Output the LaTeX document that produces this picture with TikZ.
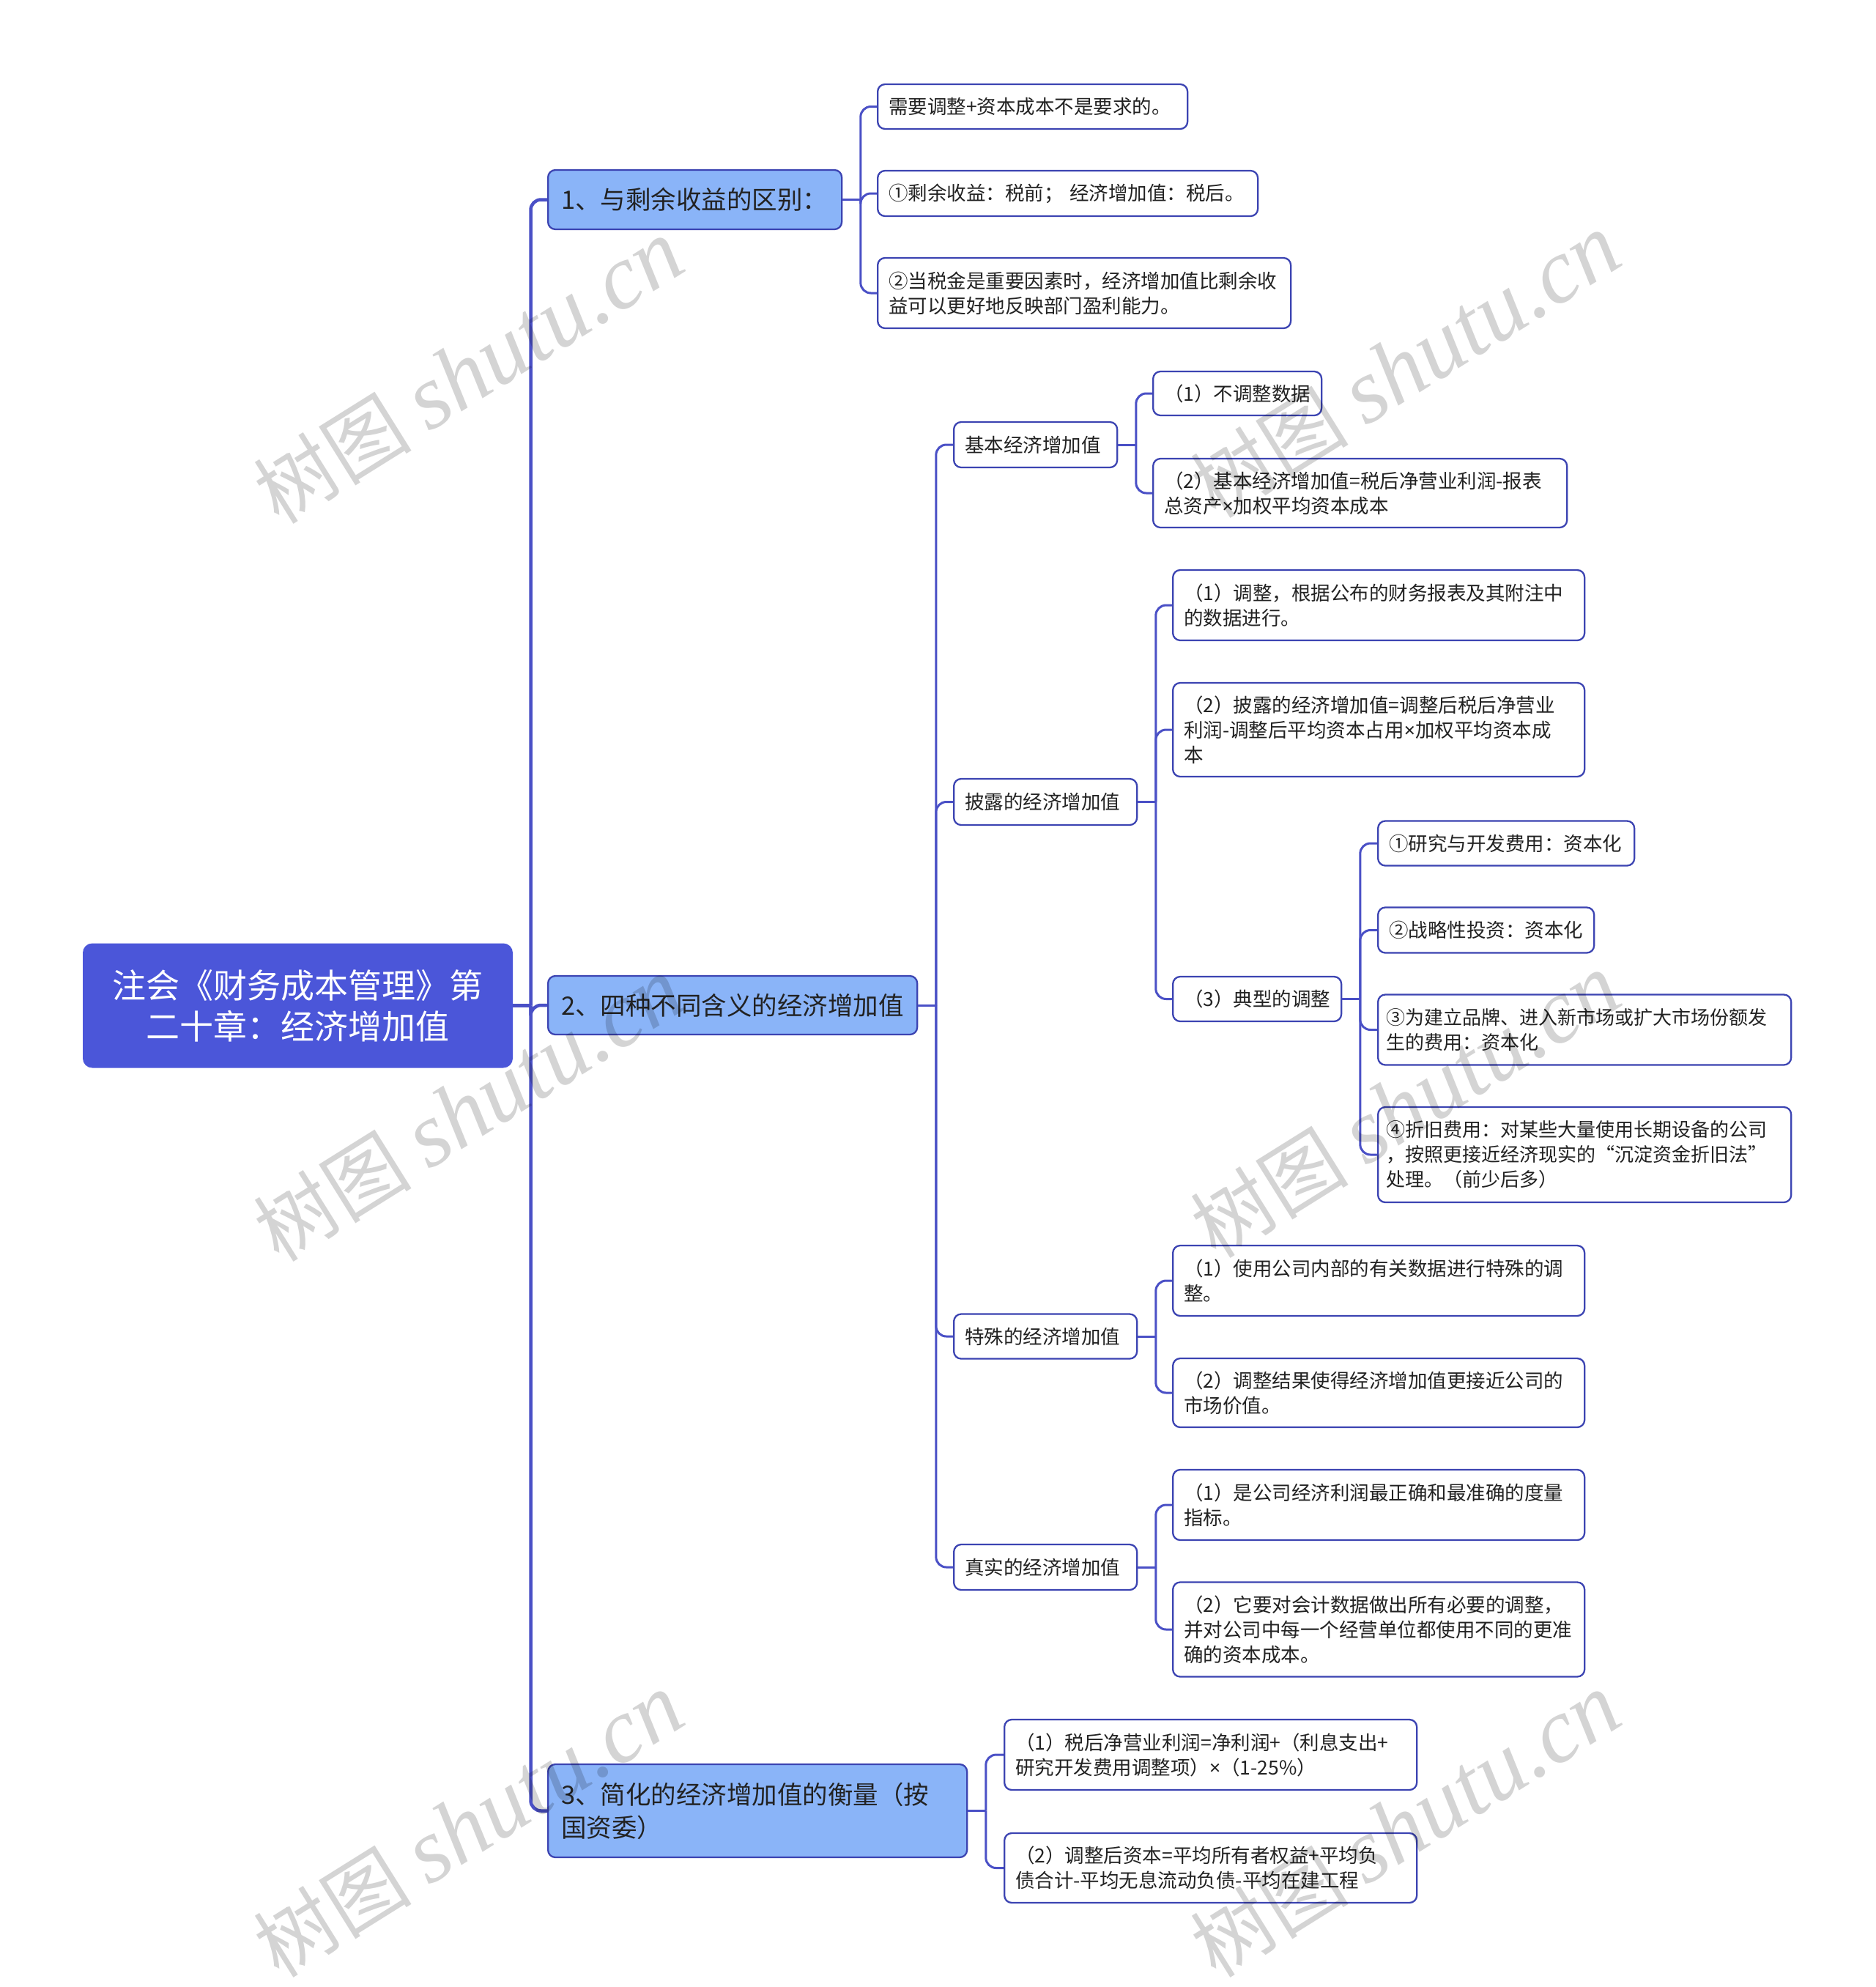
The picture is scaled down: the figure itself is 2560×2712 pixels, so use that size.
\documentclass[tikz,border=0pt]{standalone}
\usepackage{fontspec}
\setmainfont{Noto Sans CJK SC}
\newfontfamily\wmserif{Liberation Serif}
\newfontfamily\latinf{Noto Sans}
\usetikzlibrary{calc}
\definecolor{linec}{HTML}{4A50C6}
\definecolor{bordc}{HTML}{3C44B2}
\definecolor{rootc}{HTML}{4B56D9}
\definecolor{lonec}{HTML}{8AB4F8}
\definecolor{txtc}{HTML}{222222}
\tikzset{
  box/.style={draw=bordc, line width=2.3pt, rounded corners=10pt, anchor=west, align=left,
    inner xsep=15pt, inner ysep=2pt, text=txtc, font=\fontsize{26.5}{34}\selectfont},
  leaf/.style={box, fill=white},
  leafsm/.style={leaf, inner xsep=11pt, font=\fontsize{26}{34}\selectfont},
  lone/.style={box, fill=lonec, inner xsep=18pt, font=\fontsize{34.5}{45}\selectfont},
  rootbox/.style={draw=rootc, fill=rootc, line width=2pt, rounded corners=12pt, text=white, align=center,
    font=\fontsize{46}{56}\selectfont},
  conn/.style={draw=linec, line width=3pt, rounded corners=14pt},
  mainconn/.style={conn, line width=4.5pt},
  wm/.style={text=black, text opacity=0.17, rotate=32, inner sep=0pt, font=\fontsize{108}{115}\selectfont}
}
\newcommand{\wmtext}{树图 {\wmserif\itshape\fontsize{125}{130}\selectfont shutu.cn}}
\newcommand{\mul}{{\latinf ×}}
\begin{document}
\begin{tikzpicture}[x=1pt,y=-1pt]
\useasboundingbox[fill=white] (0,0) rectangle (2560,2712);

% root
\node[rootbox, minimum width=585pt, minimum height=168pt] (root) at (406.5,1372.5)
  {注会《财务成本管理》第\\二十章：经济增加值};

% level 1
\node[lone, text width=365pt, minimum height=81pt] (L1a) at (747,272.5) {1、与剩余收益的区别：};
\node[lone, text width=468pt, minimum height=80pt] (L1b) at (747,1372) {2、四种不同含义的经济增加值};
\node[lone, text width=536pt, minimum height=127pt] (L1c) at (747,2471.5) {3、简化的经济增加值的衡量（按\\国资委）};

% children of L1a
\node[leaf, text width=393pt, minimum height=61pt] (a1) at (1197,145.5) {需要调整+资本成本不是要求的。};
\node[leaf, text width=489pt, minimum height=62pt] (a2) at (1197,264) {①剩余收益：税前； 经济增加值：税后。};
\node[leaf, text width=534pt, minimum height=96pt] (a3) at (1197,400) {②当税金是重要因素时，经济增加值比剩余收\\益可以更好地反映部门盈利能力。};

% children of L1b
\node[leaf, text width=193pt, minimum height=62pt] (b1) at (1301,607) {基本经济增加值};
\node[leaf, text width=220pt, minimum height=63pt] (b2) at (1301,1094.5) {披露的经济增加值};
\node[leaf, text width=220pt, minimum height=61pt] (b3) at (1301,1824) {特殊的经济增加值};
\node[leaf, text width=220pt, minimum height=62pt] (b4) at (1301,2139) {真实的经济增加值};

% children of b1
\node[leaf, text width=200pt, minimum height=60pt] (c1) at (1573,537) {（1）不调整数据};
\node[leaf, text width=535pt, minimum height=94pt] (c2) at (1573,673) {（2）基本经济增加值=税后净营业利润-报表\\总资产\mul 加权平均资本成本};

% children of b2
\node[leaf, text width=532pt, minimum height=96pt] (d1) at (1600,826) {（1）调整，根据公布的财务报表及其附注中\\的数据进行。};
\node[leaf, text width=532pt, minimum height=128pt] (d2) at (1600,996) {（2）披露的经济增加值=调整后税后净营业\\利润-调整后平均资本占用\mul 加权平均资本成\\本};
\node[leaf, text width=200pt, minimum height=61pt] (d3) at (1600,1363.5) {（3）典型的调整};

% children of d3
\node[leaf, text width=320pt, minimum height=61pt] (e1) at (1880,1151) {①研究与开发费用：资本化};
\node[leaf, text width=265pt, minimum height=62pt] (e2) at (1880,1269.5) {②战略性投资：资本化};
\node[leafsm, text width=542pt, minimum height=96pt] (e3) at (1880,1405.5) {③为建立品牌、进入新市场或扩大市场份额发\\生的费用：资本化};
\node[leafsm, text width=542pt, minimum height=130pt] (e4) at (1880,1576) {④折旧费用：对某些大量使用长期设备的公司\\，按照更接近经济现实的“沉淀资金折旧法”\\处理。（前少后多）};

% children of b3
\node[leaf, text width=532pt, minimum height=96pt] (f1) at (1600,1748) {（1）使用公司内部的有关数据进行特殊的调\\整。};
\node[leaf, text width=532pt, minimum height=94pt] (f2) at (1600,1901) {（2）调整结果使得经济增加值更接近公司的\\市场价值。};

% children of b4
\node[leaf, text width=532pt, minimum height=96pt] (g1) at (1600,2054) {（1）是公司经济利润最正确和最准确的度量\\指标。};
\node[leaf, text width=532pt, minimum height=129pt] (g2) at (1600,2224) {（2）它要对会计数据做出所有必要的调整，\\并对公司中每一个经营单位都使用不同的更准\\确的资本成本。};

% children of L1c
\node[leaf, text width=533pt, minimum height=96pt] (h1) at (1370,2395) {（1）税后净营业利润=净利润+（利息支出+\\研究开发费用调整项）\mul（1-25\%）};
\node[leaf, text width=533pt, minimum height=95pt] (h2) at (1370,2549.5) {（2）调整后资本=平均所有者权益+平均负\\债合计-平均无息流动负债-平均在建工程};

% junctions
\coordinate (j0) at ($(root.east)+(24.5,0)$);
\coordinate (ja) at ($(L1a.east)+(24.5,0)$);
\coordinate (jb) at ($(L1b.east)+(24.5,0)$);
\coordinate (jc) at ($(L1c.east)+(24.5,0)$);
\coordinate (jb1) at ($(b1.east)+(24.5,0)$);
\coordinate (jb2) at ($(b2.east)+(24.5,0)$);
\coordinate (jb3) at ($(b3.east)+(24.5,0)$);
\coordinate (jb4) at ($(b4.east)+(24.5,0)$);
\coordinate (jd3) at ($(d3.east)+(24.5,0)$);

% connectors
\draw[mainconn] (root.east) -- (j0);
\foreach \c in {L1a,L1b,L1c} \draw[mainconn] (j0) |- (\c.west);
\draw[conn] (L1a.east) -- (ja);
\foreach \c in {a1,a2,a3} \draw[conn] (ja) |- (\c.west);
\draw[conn] (L1b.east) -- (jb);
\foreach \c in {b1,b2,b3,b4} \draw[conn] (jb) |- (\c.west);
\draw[conn] (L1c.east) -- (jc);
\foreach \c in {h1,h2} \draw[conn] (jc) |- (\c.west);
\draw[conn] (b1.east) -- (jb1);
\foreach \c in {c1,c2} \draw[conn] (jb1) |- (\c.west);
\draw[conn] (b2.east) -- (jb2);
\foreach \c in {d1,d2,d3} \draw[conn] (jb2) |- (\c.west);
\draw[conn] (b3.east) -- (jb3);
\foreach \c in {f1,f2} \draw[conn] (jb3) |- (\c.west);
\draw[conn] (b4.east) -- (jb4);
\foreach \c in {g1,g2} \draw[conn] (jb4) |- (\c.west);
\draw[conn] (d3.east) -- (jd3);
\foreach \c in {e1,e2,e3,e4} \draw[conn] (jd3) |- (\c.west);

% watermarks
\node[wm] (w1) at (640,508) {\wmtext};
\node[wm] (w2) at (1919,500) {\wmtext};
\node[wm] (w3) at (640,1515) {\wmtext};
\node[wm] (w4) at (1919,1510) {\wmtext};
\node[wm] (w5) at (640,2492) {\wmtext};
\node[wm] (w6) at (1919,2492) {\wmtext};
\end{tikzpicture}
\end{document}
